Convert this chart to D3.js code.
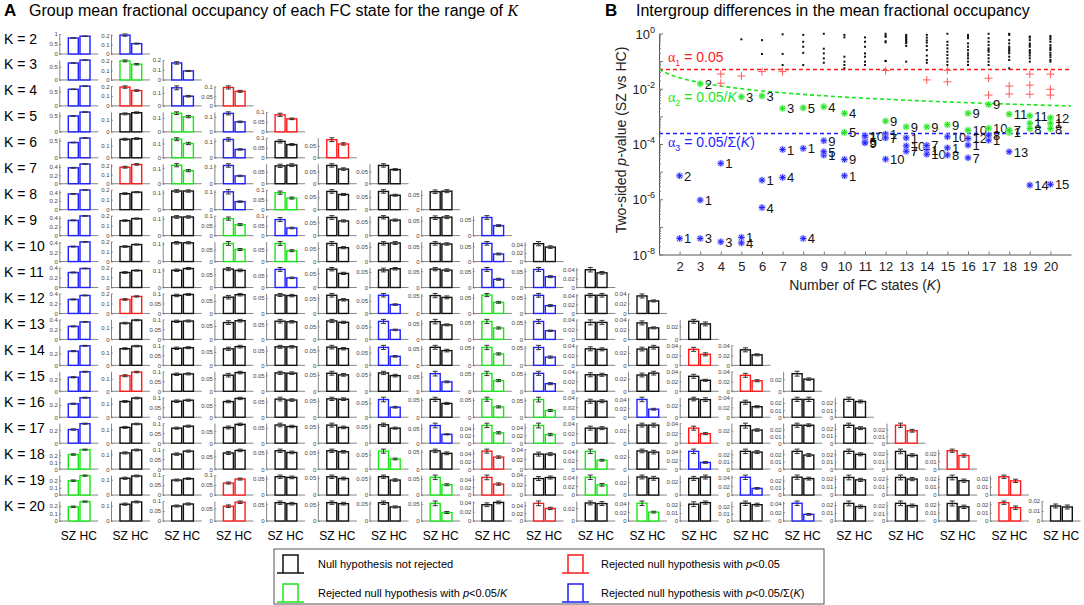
<!DOCTYPE html>
<html>
<head>
<meta charset="utf-8">
<script src="https://d3js.org/d3.v7.min.js"></script>
<style>
  body { margin: 0; background: #fff; }
  svg { font-family: "Liberation Sans", Arial, sans-serif; }
</style>
</head>
<body>
<script>
// number of FC states per row
const kValues = [2, 3, 4, 5, 6, 7, 8, 9, 10, 11, 12, 13, 14, 15, 16, 17, 18, 19, 20];

// group mean fractional occupancy, one list per K (state 1..K)
const szMean = [
  [0.80, 0.20],
  [0.64, 0.20, 0.17],
  [0.57, 0.19, 0.14, 0.095],
  [0.49, 0.15, 0.135, 0.12, 0.085],
  [0.44, 0.15, 0.13, 0.11, 0.082, 0.076],
  [0.38, 0.18, 0.12, 0.105, 0.075, 0.075, 0.075],
  [0.36, 0.16, 0.11, 0.10, 0.085, 0.072, 0.072, 0.06],
  [0.34, 0.15, 0.11, 0.085, 0.08, 0.068, 0.065, 0.06, 0.058],
  [0.32, 0.15, 0.105, 0.075, 0.075, 0.068, 0.062, 0.06, 0.06, 0.042],
  [0.30, 0.15, 0.10, 0.07, 0.075, 0.065, 0.056, 0.056, 0.055, 0.055, 0.04],
  [0.28, 0.14, 0.09, 0.065, 0.06, 0.06, 0.072, 0.05, 0.058, 0.058, 0.04, 0.035],
  [0.26, 0.135, 0.09, 0.063, 0.06, 0.07, 0.072, 0.055, 0.052, 0.052, 0.034, 0.033, 0.028],
  [0.24, 0.13, 0.085, 0.062, 0.062, 0.06, 0.07, 0.055, 0.05, 0.05, 0.033, 0.026, 0.032, 0.031],
  [0.23, 0.125, 0.085, 0.062, 0.058, 0.055, 0.055, 0.06, 0.05, 0.052, 0.033, 0.026, 0.03, 0.032, 0.029],
  [0.22, 0.115, 0.08, 0.065, 0.058, 0.056, 0.062, 0.052, 0.052, 0.052, 0.032, 0.04, 0.03, 0.03, 0.025, 0.025],
  [0.21, 0.115, 0.075, 0.065, 0.06, 0.055, 0.055, 0.06, 0.048, 0.045, 0.03, 0.028, 0.03, 0.028, 0.026, 0.025, 0.026],
  [0.21, 0.11, 0.075, 0.063, 0.055, 0.055, 0.062, 0.052, 0.045, 0.03, 0.04, 0.03, 0.04, 0.024, 0.024, 0.024, 0.023, 0.023],
  [0.20, 0.11, 0.075, 0.06, 0.055, 0.053, 0.055, 0.055, 0.045, 0.033, 0.04, 0.028, 0.025, 0.04, 0.025, 0.022, 0.022, 0.022, 0.022],
  [0.19, 0.11, 0.075, 0.06, 0.055, 0.055, 0.052, 0.052, 0.035, 0.045, 0.028, 0.04, 0.021, 0.024, 0.04, 0.022, 0.023, 0.021, 0.022, 0.015]
];
const hcMean = [
  [0.89, 0.11],
  [0.75, 0.165, 0.09],
  [0.68, 0.155, 0.075, 0.075],
  [0.61, 0.16, 0.11, 0.065, 0.065],
  [0.57, 0.155, 0.10, 0.05, 0.066, 0.058],
  [0.47, 0.21, 0.085, 0.045, 0.078, 0.06, 0.058],
  [0.45, 0.175, 0.11, 0.045, 0.058, 0.06, 0.057, 0.062],
  [0.44, 0.17, 0.11, 0.055, 0.038, 0.055, 0.055, 0.062, 0.032],
  [0.42, 0.17, 0.105, 0.05, 0.045, 0.052, 0.063, 0.058, 0.025, 0.034],
  [0.38, 0.17, 0.11, 0.065, 0.04, 0.05, 0.06, 0.053, 0.025, 0.033, 0.033],
  [0.36, 0.17, 0.095, 0.075, 0.058, 0.045, 0.035, 0.045, 0.035, 0.025, 0.04, 0.025],
  [0.35, 0.16, 0.092, 0.07, 0.058, 0.065, 0.038, 0.045, 0.033, 0.025, 0.034, 0.023, 0.024],
  [0.33, 0.15, 0.088, 0.07, 0.062, 0.055, 0.035, 0.045, 0.032, 0.023, 0.032, 0.029, 0.022, 0.021],
  [0.32, 0.155, 0.087, 0.072, 0.057, 0.05, 0.047, 0.032, 0.03, 0.022, 0.033, 0.029, 0.022, 0.021, 0.02],
  [0.32, 0.14, 0.085, 0.078, 0.055, 0.055, 0.035, 0.04, 0.03, 0.02, 0.032, 0.018, 0.029, 0.021, 0.025, 0.022],
  [0.30, 0.14, 0.085, 0.078, 0.055, 0.048, 0.045, 0.03, 0.028, 0.022, 0.03, 0.028, 0.019, 0.021, 0.026, 0.021, 0.018],
  [0.28, 0.13, 0.09, 0.073, 0.05, 0.052, 0.035, 0.045, 0.03, 0.03, 0.02, 0.028, 0.015, 0.023, 0.019, 0.02, 0.018, 0.017],
  [0.27, 0.125, 0.082, 0.08, 0.053, 0.048, 0.045, 0.032, 0.028, 0.035, 0.023, 0.026, 0.027, 0.015, 0.023, 0.019, 0.02, 0.018, 0.017],
  [0.26, 0.125, 0.085, 0.076, 0.052, 0.052, 0.04, 0.025, 0.04, 0.032, 0.027, 0.02, 0.023, 0.022, 0.015, 0.018, 0.02, 0.017, 0.016, 0.014]
];
// standard errors
const szErr = [
  [0.010, 0.012],
  [0.010, 0.010, 0.012],
  [0.010, 0.012, 0.015, 0.008],
  [0.010, 0.008, 0.010, 0.010, 0.008],
  [0.010, 0.008, 0.010, 0.010, 0.008, 0.008],
  [0.010, 0.010, 0.010, 0.010, 0.007, 0.007, 0.007],
  [0.010, 0.009, 0.008, 0.012, 0.008, 0.007, 0.007, 0.006],
  [0.010, 0.008, 0.008, 0.008, 0.010, 0.007, 0.006, 0.006, 0.006],
  [0.010, 0.008, 0.007, 0.008, 0.008, 0.007, 0.006, 0.006, 0.006, 0.005],
  [0.010, 0.009, 0.007, 0.006, 0.008, 0.006, 0.006, 0.005, 0.006, 0.006, 0.005],
  [0.010, 0.008, 0.006, 0.007, 0.005, 0.006, 0.007, 0.006, 0.005, 0.006, 0.004, 0.004],
  [0.010, 0.007, 0.006, 0.007, 0.006, 0.006, 0.008, 0.007, 0.006, 0.006, 0.005, 0.004, 0.003],
  [0.010, 0.007, 0.006, 0.006, 0.005, 0.006, 0.008, 0.006, 0.006, 0.006, 0.004, 0.003, 0.004, 0.004],
  [0.010, 0.008, 0.006, 0.007, 0.005, 0.006, 0.005, 0.008, 0.006, 0.006, 0.004, 0.003, 0.004, 0.004, 0.004],
  [0.010, 0.007, 0.006, 0.005, 0.006, 0.005, 0.008, 0.006, 0.006, 0.007, 0.004, 0.005, 0.003, 0.004, 0.003, 0.003],
  [0.010, 0.007, 0.005, 0.006, 0.006, 0.006, 0.005, 0.008, 0.006, 0.006, 0.004, 0.003, 0.004, 0.004, 0.003, 0.003, 0.003],
  [0.010, 0.007, 0.006, 0.006, 0.005, 0.005, 0.007, 0.005, 0.005, 0.004, 0.005, 0.003, 0.005, 0.003, 0.003, 0.003, 0.003, 0.002],
  [0.010, 0.007, 0.005, 0.005, 0.005, 0.005, 0.005, 0.007, 0.006, 0.004, 0.005, 0.003, 0.003, 0.005, 0.003, 0.003, 0.003, 0.003, 0.002],
  [0.010, 0.007, 0.005, 0.005, 0.005, 0.005, 0.005, 0.007, 0.004, 0.006, 0.003, 0.005, 0.003, 0.003, 0.005, 0.003, 0.003, 0.003, 0.002, 0.002]
];
const hcErr = [
  [0.006, 0.005],
  [0.006, 0.008, 0.005],
  [0.007, 0.008, 0.006, 0.005],
  [0.007, 0.007, 0.008, 0.005, 0.004],
  [0.007, 0.007, 0.008, 0.004, 0.005, 0.005],
  [0.007, 0.008, 0.007, 0.004, 0.006, 0.005, 0.004],
  [0.007, 0.006, 0.007, 0.004, 0.005, 0.004, 0.004, 0.005],
  [0.007, 0.006, 0.007, 0.005, 0.004, 0.004, 0.004, 0.005, 0.003],
  [0.007, 0.006, 0.006, 0.004, 0.004, 0.004, 0.005, 0.004, 0.003, 0.003],
  [0.007, 0.006, 0.006, 0.005, 0.003, 0.004, 0.004, 0.004, 0.003, 0.003, 0.003],
  [0.008, 0.006, 0.005, 0.005, 0.004, 0.004, 0.003, 0.004, 0.003, 0.003, 0.004, 0.002],
  [0.008, 0.006, 0.005, 0.005, 0.004, 0.004, 0.003, 0.003, 0.003, 0.002, 0.004, 0.002, 0.003],
  [0.008, 0.006, 0.005, 0.005, 0.004, 0.004, 0.003, 0.004, 0.003, 0.003, 0.003, 0.003, 0.003, 0.002],
  [0.008, 0.006, 0.005, 0.005, 0.004, 0.004, 0.004, 0.003, 0.003, 0.003, 0.003, 0.003, 0.002, 0.002, 0.002],
  [0.008, 0.006, 0.005, 0.005, 0.004, 0.004, 0.003, 0.003, 0.003, 0.003, 0.003, 0.002, 0.003, 0.002, 0.003, 0.002],
  [0.008, 0.006, 0.005, 0.005, 0.004, 0.004, 0.003, 0.002, 0.003, 0.003, 0.003, 0.003, 0.002, 0.002, 0.002, 0.002, 0.002],
  [0.008, 0.006, 0.005, 0.005, 0.004, 0.004, 0.003, 0.004, 0.003, 0.003, 0.002, 0.003, 0.002, 0.002, 0.002, 0.002, 0.002, 0.002],
  [0.008, 0.006, 0.004, 0.005, 0.004, 0.004, 0.004, 0.003, 0.003, 0.003, 0.003, 0.003, 0.003, 0.002, 0.002, 0.002, 0.002, 0.002, 0.002],
  [0.008, 0.006, 0.005, 0.005, 0.004, 0.004, 0.003, 0.003, 0.003, 0.003, 0.003, 0.002, 0.002, 0.002, 0.002, 0.002, 0.002, 0.002, 0.002, 0.002]
];
// log10 of the two-sided p-value (SZ vs HC), state 1..K
const log10P = [
  [-7.42, -5.15],
  [-6.03, -1.82, -7.42],
  [-4.70, -1.80, -7.54, -1.47],
  [-7.38, -0.21, -2.29, -7.58, -1.54],
  [-5.31, -0.24, -2.26, -6.30, -0.74, -1.38],
  [-4.20, -1.38, -2.71, -5.21, -0.03, -0.74, -1.14],
  [-4.16, -0.05, -0.48, -7.42, -2.69, -0.70, -1.14, -0.30],
  [-4.40, -0.01, -0.55, -2.65, -4.28, -0.72, -0.90, -1.06, -3.88],
  [-5.15, -0.05, -0.14, -2.89, -3.58, -0.84, -1.02, -1.14, -4.56, -1.26],
  [-3.76, -0.14, -0.30, -0.48, -3.92, -0.72, -0.84, -1.02, -3.96, -3.70, -1.14],
  [-3.64, -1.34, -0.01, -0.08, -0.12, -0.28, -3.78, -0.32, -3.17, -4.55, -0.99, -1.00],
  [-3.78, -0.05, -0.10, -0.14, -0.20, -0.25, -4.26, -0.30, -3.38, -4.07, -0.35, -0.45, -1.02],
  [-4.20, -0.05, -0.33, -0.45, -0.96, -1.06, -4.05, -0.15, -3.38, -4.37, -0.25, -0.60, -1.68, -0.80],
  [-4.14, -1.33, -0.01, -0.30, -0.42, -0.54, -0.66, -4.40, -3.30, -3.74, -0.78, -0.90, -1.02, -1.75, -1.14],
  [-4.04, -0.05, -0.17, -0.36, -0.48, -0.60, -4.50, -0.72, -2.89, -3.50, -0.90, -3.80, -1.02, -1.14, -0.10, -0.80],
  [-3.86, -0.01, -0.17, -0.42, -0.54, -0.66, -0.78, -3.68, -2.57, -3.43, -0.90, -1.02, -1.62, -1.14, -0.30, -0.60, -2.23],
  [-3.58, -0.01, -0.05, -0.24, -0.36, -0.48, -3.50, -0.54, -1.90, -0.60, -2.92, -0.66, -4.28, -0.72, -0.84, -0.96, -1.26, -2.19],
  [-3.25, -0.11, -0.24, -1.47, -0.36, -0.48, -0.60, -3.44, -1.87, -0.72, -2.98, -0.90, -1.02, -5.49, -0.15, -0.42, -0.66, -0.80, -2.20],
  [-3.25, -0.09, -0.21, -1.47, -0.30, -0.42, -0.50, -3.44, -0.60, -2.02, -0.70, -3.05, -0.78, -0.86, -5.46, -0.96, -1.02, -0.15, -2.23, -0.55]
];
const groups = ["SZ", "HC"];
const pTickExps = [0, -2, -4, -6, -8];
const legendLabels = [
  ["Null hypothesis not rejected", ""],
  ["Rejected null hypothesis with ", "<0.05"],
  ["Rejected null hypothesis with ", "<0.05/K"],
  ["Rejected null hypothesis with ", "<0.05/\u03A3(K)"]
];

const colours = { n: "#111111", R: "#ff1a1a", G: "#19e619", B: "#1f1fff" };
const alpha = 0.05;
const sumK = d3.sum(kValues);
function sigClass(lp, K) {
  const p = Math.pow(10, lp);
  if (p < alpha / sumK) return "B";
  if (p < alpha / K) return "G";
  if (p < alpha) return "R";
  return "n";
}
// matlab-ish sparse ticks and limit for the tiny axes
function tinyAxis(top) {
  let step = 0.001;
  [0.001, 0.002, 0.005, 0.01, 0.02, 0.05, 0.1, 0.2, 0.5, 1].forEach(s => {
    const lead = Math.round(s / Math.pow(10, Math.floor(Math.log10(s) + 1e-9)));
    const need = lead === 2 ? 1.5 : 1.1;
    if (top / s >= need) step = s;
  });
  let lim = top;
  const next = Math.ceil(top / step - 1e-9) * step;
  if (next / top <= 1.18 && Math.round(next / step) <= 2) lim = next;
  const ticks = d3.range(0, lim + 1e-9, step).map(v => +v.toFixed(4));
  return { lim, ticks };
}

const svg = d3.select("body").append("svg")
  .attr("width", 1084).attr("height", 605);

// ---------- panel A ----------
svg.append("text").attr("x", 4).attr("y", 16)
  .attr("font-size", 17).attr("font-weight", "bold").text("A");
const tA = svg.append("text").attr("x", 29).attr("y", 16).attr("font-size", 16)
  .text("Group mean fractional occupancy of each FC state for the range of ");
tA.append("tspan").attr("font-family", "Liberation Serif, serif").attr("font-style", "italic").text("K");

const colX = d3.scaleLinear().domain([1, 20]).range([59.3, 1041.6]);
const rowY = d3.scaleLinear().domain([2, 20]).range([54, 521]);
const cellW = 39, cellH = 20;
const xBand = d3.scaleBand().domain(groups).range([9, 30.7]).paddingInner(0.145);

kValues.forEach((K, ri) => {
  svg.append("text").attr("x", 4).attr("y", rowY(K) - 10.5)
    .attr("font-size", 14).text("K = " + K);
  for (let s = 0; s < K; s++) {
    const vals = [
      { g: "SZ", m: szMean[ri][s], e: szErr[ri][s] },
      { g: "HC", m: hcMean[ri][s], e: hcErr[ri][s] }
    ];
    const col = colours[sigClass(log10P[ri][s], K)];
    const ta = tinyAxis(d3.max(vals, d => d.m + d.e));
    const y = d3.scaleLinear().domain([0, ta.lim]).range([0, -cellH]);
    const g = svg.append("g").attr("transform", `translate(${colX(s + 1)},${rowY(K)})`);
    g.append("line").attr("x1", 0).attr("x2", cellW).attr("y1", 0).attr("y2", 0)
      .attr("stroke", "#666").attr("stroke-width", 0.8);
    const ax = g.append("g").call(d3.axisLeft(y).tickValues(ta.ticks).tickSizeInner(-2).tickSizeOuter(0)
      .tickPadding(1.5).tickFormat(d3.format("~g")));
    ax.select(".domain").attr("stroke", "#666").attr("stroke-width", 0.8);
    ax.selectAll(".tick line").attr("stroke", "#666").attr("stroke-width", 0.6);
    ax.selectAll(".tick text").attr("font-size", 6).attr("fill", "#444")
      .attr("font-family", "Liberation Sans, Arial, sans-serif");
    g.selectAll("rect.bar").data(vals).join("rect").attr("class", "bar")
      .attr("x", d => xBand(d.g)).attr("width", xBand.bandwidth())
      .attr("y", d => y(d.m)).attr("height", d => -y(d.m))
      .attr("fill", "#fff").attr("stroke", col).attr("stroke-width", 1.4);
    vals.forEach(d => {
      const cx = xBand(d.g) + xBand.bandwidth() / 2;
      g.append("path")
        .attr("d", `M${cx},${y(d.m - d.e)}V${y(d.m + d.e)}M${cx - 2.5},${y(d.m - d.e)}H${cx + 2.5}M${cx - 2.5},${y(d.m + d.e)}H${cx + 2.5}`)
        .attr("stroke", "#333").attr("stroke-width", 1).attr("fill", "none");
    });
  }
});
d3.range(1, 21).forEach(c => {
  svg.append("text").attr("x", colX(c) + cellW / 2).attr("y", 540)
    .attr("text-anchor", "middle").attr("font-size", 12).text(groups.join(" "));
});

// legend
const leg = svg.append("g");
leg.append("rect").attr("x", 274).attr("y", 549).attr("width", 550).attr("height", 55)
  .attr("fill", "#fff").attr("stroke", "#555").attr("stroke-width", 1);
const legCls = ["n", "R", "G", "B"];
legendLabels.forEach((lab, i) => {
  const lx = i % 2 === 0 ? 277 : 562;
  const by = i < 2 ? 573 : 602;
  const tx = i % 2 === 0 ? 318 : 601;
  const c = colours[legCls[i]];
  leg.append("path").attr("d", `M${lx},${by}H${lx + 27}M${lx + 6},${by}V${by - 18}H${lx + 21}V${by}`)
    .attr("fill", "none").attr("stroke", c).attr("stroke-width", 1.5);
  const t = leg.append("text").attr("x", tx).attr("y", by - 5).attr("font-size", 11).text(lab[0]);
  if (lab[1]) {
    t.append("tspan").attr("font-style", "italic").text("p");
    const rest = lab[1];
    if (rest.indexOf("K") >= 0) {
      const parts = rest.split("K");
      t.append("tspan").text(parts[0]);
      t.append("tspan").attr("font-style", "italic").text("K");
      t.append("tspan").text(parts[1]);
    } else {
      t.append("tspan").text(rest);
    }
  }
});

// ---------- panel B ----------
svg.append("text").attr("x", 605).attr("y", 16)
  .attr("font-size", 17).attr("font-weight", "bold").text("B");
svg.append("text").attr("x", 636).attr("y", 16).attr("font-size", 16)
  .text("Intergroup differences in the mean fractional occupancy");

const xB = d3.scaleLinear().domain([1, 21]).range([659, 1071]);
const yB = d3.scaleLog().domain([1e-8, 1]).range([254.5, 33.5]);

const gB = svg.append("g");
const xAx = gB.append("g").attr("transform", `translate(0,${yB.range()[0]})`)
  .call(d3.axisBottom(xB).tickValues(kValues).tickSizeInner(-3).tickSizeOuter(0).tickPadding(7));
xAx.selectAll(".tick text").attr("font-size", 13).attr("fill", "#222")
  .attr("font-family", "Liberation Sans, Arial, sans-serif");
const yAx = gB.append("g").attr("transform", `translate(${xB.range()[0]},0)`)
  .call(d3.axisLeft(yB).tickValues(yB.ticks()).tickSizeInner(-2).tickSizeOuter(0).tickFormat(""));
yAx.selectAll(".tick line").filter(d => Math.abs(Math.log10(d) % 1) < 1e-6).attr("x2", 4);
[xAx, yAx].forEach(a => {
  a.select(".domain").attr("stroke", "#555");
  a.selectAll(".tick line").attr("stroke", "#777");
});
pTickExps.forEach(e => {
  const t = gB.append("text").attr("x", 655).attr("y", yB(Math.pow(10, e)) + 5)
    .attr("text-anchor", "end").attr("font-size", 13).attr("fill", "#222").text("10");
  t.append("tspan").attr("dy", -6).attr("font-size", 9).text(e);
});
const xl = gB.append("text").attr("x", 865).attr("y", 290).attr("text-anchor", "middle")
  .attr("font-size", 14).attr("fill", "#222").text("Number of FC states (");
xl.append("tspan").attr("font-style", "italic").text("K");
xl.append("tspan").text(")");
const yl = gB.append("text").attr("transform", "translate(626,140) rotate(-90)")
  .attr("text-anchor", "middle").attr("font-size", 14).attr("fill", "#222").text("Two-sided ");
yl.append("tspan").attr("font-style", "italic").text("p");
yl.append("tspan").text("-value (SZ vs HC)");

// thresholds
const xr = xB.domain();
gB.append("line").attr("x1", xB(xr[0])).attr("x2", xB(xr[1]))
  .attr("y1", yB(alpha)).attr("y2", yB(alpha))
  .attr("stroke", colours.R).attr("stroke-width", 1.6).attr("stroke-dasharray", "4,3");
gB.append("line").attr("x1", xB(xr[0])).attr("x2", xB(xr[1]))
  .attr("y1", yB(alpha / sumK)).attr("y2", yB(alpha / sumK))
  .attr("stroke", colours.B).attr("stroke-width", 1.6).attr("stroke-dasharray", "4,3");
const kLine = d3.range(xr[0], xr[1] + 0.001, 0.25);
gB.append("path").datum(kLine)
  .attr("d", d3.line().x(k => xB(k)).y(k => yB(alpha / k)))
  .attr("fill", "none").attr("stroke", colours.G).attr("stroke-width", 1.6).attr("stroke-dasharray", "4,3");

function alphaLabel(y, idx, rest, col) {
  const t = gB.append("text").attr("x", 668).attr("y", y).attr("font-size", 14).attr("fill", col);
  t.append("tspan").attr("font-family", "Liberation Serif, serif").text("\u03B1");
  t.append("tspan").attr("font-size", 9).attr("dy", 4).text(idx);
  t.append("tspan").attr("dy", -4).text(" = ");
  rest.forEach(r => t.append("tspan").attr("font-style", r.i ? "italic" : null).text(r.s));
}
alphaLabel(62, "1", [{ s: "0.05" }], colours.R);
alphaLabel(102, "2", [{ s: "0.05/" }, { s: "K", i: true }], colours.G);
alphaLabel(147, "3", [{ s: "0.05/\u03A3(" }, { s: "K", i: true }, { s: ")" }], colours.B);

// points
const pts = [];
kValues.forEach((K, ri) => log10P[ri].forEach((lp, s) => {
  pts.push({ K, state: s + 1, p: Math.pow(10, lp), cls: sigClass(lp, K) });
}));
const halo = { G: "#9af29a", B: "#a9a9ff" };
pts.forEach(d => {
  const x = xB(d.K), y = yB(d.p);
  if (d.cls === "n") {
    gB.append("rect").attr("x", x - 1).attr("y", y - 1).attr("width", 2).attr("height", 2).attr("fill", "#111");
  } else if (d.cls === "R") {
    gB.append("path").attr("d", `M${x - 4},${y}H${x + 4}M${x},${y - 4}V${y + 4}`)
      .attr("stroke", "#ff5a5a").attr("stroke-width", 1);
  } else {
    gB.append("circle").attr("cx", x).attr("cy", y).attr("r", 3.6)
      .attr("fill", halo[d.cls]).attr("opacity", 0.7);
    gB.append("path").attr("d", `M${x - 3},${y}H${x + 3}M${x},${y - 3}V${y + 3}M${x - 2.2},${y - 2.2}L${x + 2.2},${y + 2.2}M${x - 2.2},${y + 2.2}L${x + 2.2},${y - 2.2}`)
      .attr("stroke", colours[d.cls]).attr("stroke-width", 1);
    gB.append("text").attr("x", x + 4.5).attr("y", y + 5).attr("font-size", 13).attr("fill", "#111").text(d.state);
  }
});
</script>
</body>
</html>
